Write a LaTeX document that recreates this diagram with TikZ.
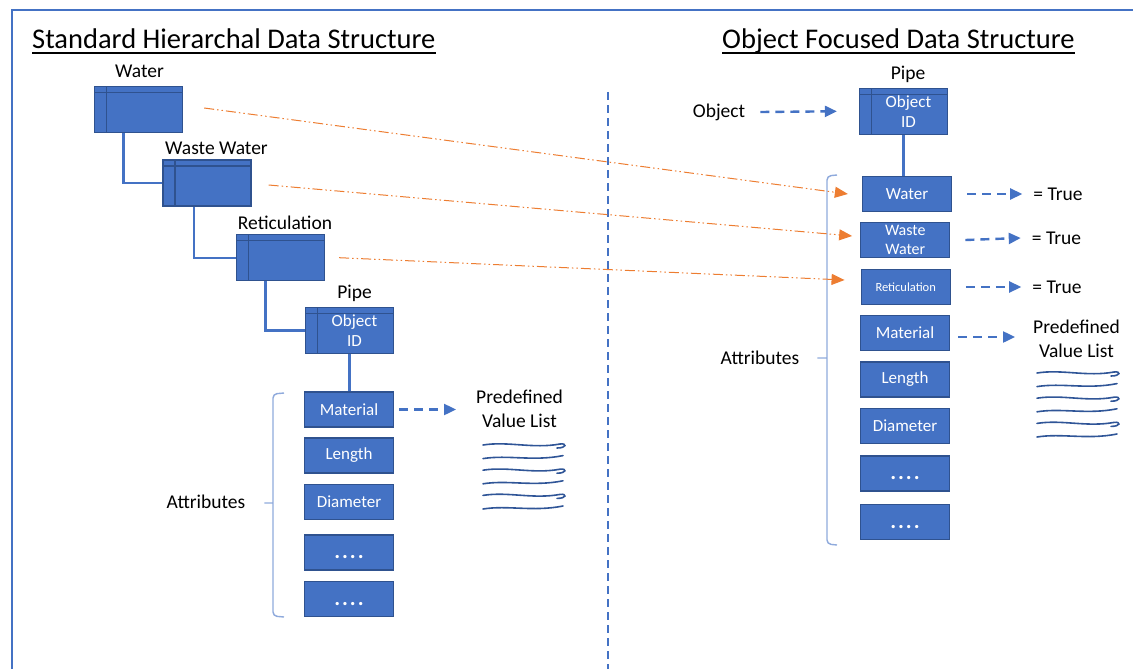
\documentclass[tikz,border=0pt]{standalone}
\usepackage{fontspec}
\setmainfont{Carlito}
\usetikzlibrary{arrows.meta}
\definecolor{dsblue}{HTML}{4472C4}
\definecolor{dsedge}{HTML}{2F528F}
\definecolor{dsorange}{HTML}{ED7D31}
\definecolor{dsink}{HTML}{2F5597}
\definecolor{dsbrace}{HTML}{8FAADC}
\newcommand{\dotrow}{\raisebox{-6pt}[0pt][0pt]{\fontsize{22}{22}\selectfont\bfseries .\hspace{2pt}.\hspace{2pt}.\hspace{2pt}.}}

\begin{document}
\begin{tikzpicture}[x=1pt,y=-1pt,
  attrbox/.style={draw=dsedge,line width=1.3pt,fill=dsblue,text=white,
    minimum width=89pt,minimum height=35pt,inner sep=1pt,align=center,
    font=\fontsize{17}{19}\selectfont},
  tablebox/.style={attrbox,minimum width=88pt,minimum height=46pt,
    path picture={\draw[dsedge,line width=1.3pt]
      ([yshift=-6pt]path picture bounding box.north west) -- ([yshift=-6pt]path picture bounding box.north east)
      ([xshift=12pt]path picture bounding box.north west) -- ([xshift=12pt]path picture bounding box.south west);}},
  lbl/.style={font=\fontsize{19.5}{24}\selectfont,align=center,inner sep=0pt},
  ttl/.style={font=\fontsize{28.5}{32}\selectfont,anchor=base west,inner sep=0pt},
  link/.style={dsblue,line width=2.4pt},
  flow/.style={dsblue,line width=2.4pt,dash pattern=on 9pt off 6pt,-{Triangle[length=12pt,width=11pt]}},
  map/.style={dsorange,line width=1pt,dash pattern=on 10pt off 3pt on 1.5pt off 3pt on 1.5pt off 3pt,-{Triangle[length=13pt,width=11pt]}},
  brc/.style={dsbrace,line width=1.4pt,rounded corners=4pt},
  ink/.style={dsink,line width=1.6pt,line cap=round}]
  \useasboundingbox (0,0) rectangle (1133,669);
  \draw[dsblue,line width=1.5pt] (12,669) -- (12,10) -- (1133,10);

  \node[ttl] (hTitle) at (32,49) {Standard Hierarchal Data Structure};
  \node[ttl] (oTitle) at (722,49) {Object Focused Data Structure};
  \draw[line width=1.6pt] ([yshift=-4pt]hTitle.base west) -- ([yshift=-4pt]hTitle.base east);
  \draw[line width=1.6pt] ([yshift=-4pt]oTitle.base west) -- ([yshift=-4pt]oTitle.base east);

  \draw[dsblue,line width=2pt,dash pattern=on 8pt off 5pt] (608,92) -- (608,669);

  \node[lbl] at (139.5,71) {Water};
  \node[tablebox] (hWater) at (138.5,109.5) {};
  \node[lbl] at (216.5,148) {Waste Water};
  \node[tablebox] (hWaste) at (207,183) {};
  \node[lbl] at (285,223) {Reticulation};
  \node[tablebox] (hRetic) at (280.5,257.7) {};
  \node[lbl] at (354.5,293) {Pipe};
  \node[tablebox] (hPipe) at (349.5,330.5) {\hspace*{10pt}Object\\[1pt]\hspace*{10pt}ID};
  \foreach \nm/\txt/\yy in {Mat/Material/409.5,Len/Length/455.5,Dia/Diameter/502,DotA/\dotrow/552.5,DotB/\dotrow/599}
    \node[attrbox] (h\nm) at (349,\yy) {\txt};
  \node[lbl] (hAttr) at (206,502) {Attributes};
  \node[lbl] (hList) at (519.5,409) {Predefined\\Value List};

  \draw[link] ([xshift=-15pt]hWater.south) |- (hWaste.west);
  \draw[link] ([xshift=-13pt]hWaste.south) |- (hRetic.west);
  \draw[link] ([xshift=-15pt]hRetic.south) |- (hPipe.west);
  \draw[link] (hPipe.south) -- (hPipe.south |- hMat.north);
  \draw[flow] ([xshift=5pt]hMat.east) -- ([xshift=-20pt]hList.west |- hMat.east);
  \draw[brc] (284,393) -- (273,394) -- (273,499) .. controls (273,503) .. (262,503) .. controls (273,503) .. (273,507) -- (273,616) -- (284,617);

  \node[lbl] at (908,74) {Pipe};
  \node[tablebox] (oPipe) at (903.5,111.3) {\hspace*{10pt}Object\\[1pt]\hspace*{10pt}ID};
  \node[lbl] (oObj) at (719,112) {Object};
  \node[attrbox] (oWater) at (907,194) {Water};
  \node[attrbox,font=\fontsize{16}{18.3}\selectfont] (oWaste) at (905.3,240) {Waste\\Water};
  \node[attrbox,font=\fontsize{12.5}{14}\selectfont] (oRetic) at (905.7,287) {Reticulation};
  \foreach \nm/\txt/\yy in {Mat/Material/333,Len/Length/379.5,Dia/Diameter/426,DotA/\dotrow/473.5,DotB/\dotrow/522}
    \node[attrbox] (o\nm) at (905,\yy) {\txt};
  \node[lbl] (oTrueA) at (1058,194) {= True};
  \node[lbl] (oTrueB) at (1056.5,238) {= True};
  \node[lbl] (oTrueC) at (1057,287) {= True};
  \node[lbl] (oAttr) at (760,358) {Attributes};
  \node[lbl] (oList) at (1076.5,339) {Predefined\\Value List};

  \draw[link] (oPipe.south) -- (oPipe.south |- oWater.north);
  \draw[flow] ([xshift=15pt]oObj.east) -- ([xshift=-22pt]oPipe.west);
  \draw[flow] ([xshift=15pt]oWater.east) -- ([xshift=-11pt]oTrueA.west);
  \draw[flow] ([xshift=15pt]oWaste.east) -- ([xshift=-11pt]oTrueB.west);
  \draw[flow] ([xshift=15pt]oRetic.east) -- ([xshift=-11pt]oTrueC.west);
  \draw[flow] ([xshift=8pt,yshift=-4pt]oMat.east) -- ([xshift=-18pt,yshift=-4pt]oMat.east -| oList.west);
  \draw[brc] (837,175) -- (827,176) -- (827,354) .. controls (827,358) .. (815,358) .. controls (827,358) .. (827,362) -- (827,544) -- (837,545);

  \draw[map] ([xshift=21pt,yshift=1.5pt]hWater.east) -- ([xshift=-14pt]oWater.west);
  \draw[map] ([xshift=17pt,yshift=-2pt]hWaste.east) -- ([xshift=-8pt,yshift=4pt]oWaste.west);
  \draw[map] ([xshift=14pt]hRetic.east) -- ([xshift=-16pt,yshift=7pt]oRetic.west);

  \foreach \ox/\oy in {483/445,1037/373}{
    \foreach \k in {0,...,5}{
      \begin{scope}[shift={(\ox,{\oy+12.6*\k})}]
        \ifodd\k
          \draw[ink] (0,1) .. controls (25,-3) and (50,4) .. (80,-2);
        \else
          \draw[ink] (0,0) .. controls (25,-4) and (50,4) .. (77,-1) .. controls (84,-2) and (84,3) .. (74,3);
        \fi
      \end{scope}
    }
  }
\end{tikzpicture}
\end{document}
